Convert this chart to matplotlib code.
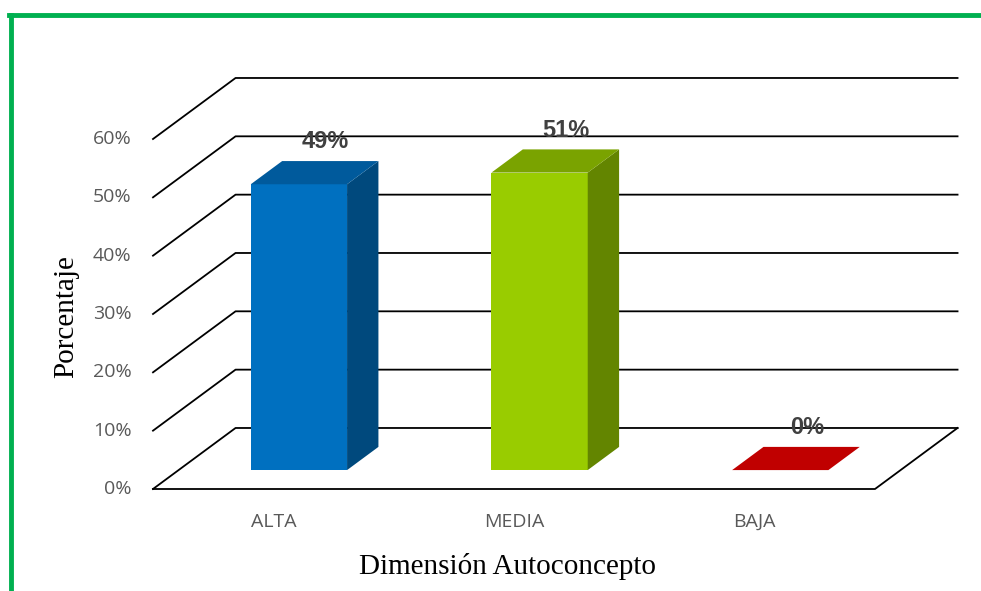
import matplotlib
matplotlib.use("Agg")
import matplotlib.pyplot as plt
from matplotlib.patches import Polygon
from matplotlib.lines import Line2D

categorias = ["ALTA", "MEDIA", "BAJA"]
porcentajes = [49, 51, 0]
etiquetas = ["49%", "51%", "0%"]
ticks = [0, 10, 20, 30, 40, 50, 60]

frente = ["#0070C0", "#99CC00", "#C00000"]
lado = ["#00497D", "#638500", "#7D0000"]
techo = ["#005A9C", "#7AA300", "#C00000"]

# perspective offset of the back wall (category units, percent units)
DX = 0.343
DY = 10.46
D0, D1 = 0.31, 0.69   # depth span of each bar
ANCHO = 0.4

fig = plt.figure(figsize=(9.81, 5.91), dpi=100)
ax = fig.add_axes([153 / 981, (591 - 489) / 591, (875 - 153) / 981, 350 / 591])
ax.set_xlim(-0.5, 2.5)
ax.set_ylim(0, 60)
ax.axis("off")

# green frame
fig.add_artist(Line2D([10.5 / 981, 10.5 / 981], [0, 1 - 14.5 / 591],
                      color="#00B050", lw=3.5, transform=fig.transFigure))
fig.add_artist(Line2D([9 / 981, 1], [1 - 14.5 / 591, 1 - 14.5 / 591],
                      color="#00B050", lw=3.5, transform=fig.transFigure))

x0, x1 = -0.5, 2.5
for t in ticks:
    ax.plot([x0, x0 + DX, x1 + DX], [t, t + DY, t + DY], color="black",
            lw=1.3, clip_on=False, zorder=1)
    ax.text(x0 - 0.09, t, f"{t}%", ha="right", va="center", fontsize=14,
            color="#595959", family="Open Sans")
# floor front and right edges
ax.plot([x0, x1, x1 + DX], [0, 0, DY], color="black", lw=1.3,
        clip_on=False, zorder=1)

for i, v in enumerate(porcentajes):
    xa = i - ANCHO / 2
    xb = i + ANCHO / 2
    fa = (xa + D0 * DX, D0 * DY)
    fb = (xb + D0 * DX, D0 * DY)
    ba = (xa + D1 * DX, D1 * DY)
    bb = (xb + D1 * DX, D1 * DY)
    if v > 0:
        ax.add_patch(Polygon([fa, fb, (fb[0], fb[1] + v), (fa[0], fa[1] + v)],
                             color=frente[i], lw=0, zorder=3, clip_on=False))
        ax.add_patch(Polygon([fb, bb, (bb[0], bb[1] + v), (fb[0], fb[1] + v)],
                             color=lado[i], lw=0, zorder=3, clip_on=False))
    ax.add_patch(Polygon([(fa[0], fa[1] + v), (fb[0], fb[1] + v),
                          (bb[0], bb[1] + v), (ba[0], ba[1] + v)],
                         color=techo[i], lw=0, zorder=3, clip_on=False))
    ax.text(i + 0.5 * DX + 0.045, v + D1 * DY + 1.3, etiquetas[i],
            ha="center", va="bottom", fontsize=17, fontweight="bold",
            color="#404040", family="Liberation Sans", zorder=4)
    ax.text(i, -5.6, categorias[i], ha="center", va="center", fontsize=14,
            color="#595959", family="Open Sans")

fig.text(507 / 981, 1 - 566 / 591, "Dimensión Autoconcepto", ha="center",
         va="center", fontsize=21, family="Liberation Serif")
fig.text(66 / 981, 1 - 317 / 591, "Porcentaje", ha="center", va="center",
         rotation=90, fontsize=21, family="Liberation Serif")

fig.savefig("out.png", dpi=100)
